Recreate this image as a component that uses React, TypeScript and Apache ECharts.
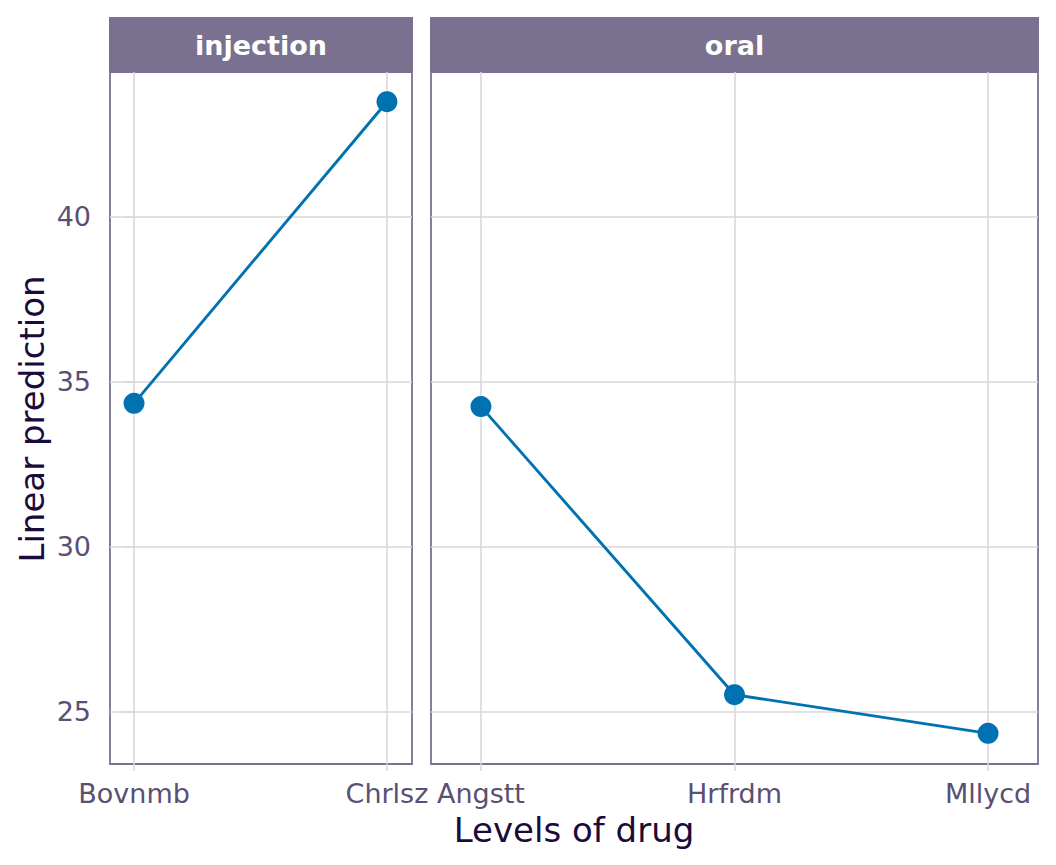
import React, { useEffect, useRef } from "react";
import * as echarts from "echarts";

const panels = ["injection", "oral"];
const injectionDrugs = ["Bovnmb", "Chrlsz"];
const injectionValues = [34.35, 43.49];
const oralDrugs = ["Angstt", "Hrfrdm", "Mllycd"];
const oralValues = [34.25, 25.52, 24.35];
const yTicks = [25, 30, 35, 40];

const FONT = "DejaVu Sans";
const BLUE = "#0072B2";
const BORDER = "#7A7190";
const GRID = "#D8D6DE";
const LABEL = "#5A5073";
const TITLE = "#1A0B3B";

export default function App() {
  const ref = useRef<HTMLDivElement>(null);
  useEffect(() => {
    if (!ref.current) return;
    const chart = echarts.init(ref.current, null, { renderer: "svg" });
    const yMin = 23.42;
    const yMax = 44.39;
    const top = 72;
    const height = 692;
    const grids = [
      { left: 110, top, width: 302, height },
      { left: 431, top, width: 607, height },
    ];
    const xRanges = [
      { min: -0.095, max: 1.099 },
      { min: -0.197, max: 2.197 },
    ];
    const catsList = [injectionDrugs, oralDrugs];
    const valsList = [injectionValues, oralValues];

    const xAxes = catsList.map((cats, i) => ({
      type: "value",
      gridIndex: i,
      min: xRanges[i].min,
      max: xRanges[i].max,
      axisLine: { show: false },
      axisTick: {
        show: true,
        length: 7,
        customValues: cats.map((_, k) => k),
        lineStyle: { color: GRID, width: 1.5 },
      },
      axisLabel: {
        customValues: cats.map((_, k) => k),
        formatter: (v: number) => cats[Math.round(v)] ?? "",
        color: LABEL,
        fontFamily: FONT,
        fontSize: 27,
        margin: 16,
      },
      splitLine: { show: true, lineStyle: { color: GRID, width: 1.5 } },
    }));

    const yAxes = [0, 1].map((i) => ({
      type: "value",
      gridIndex: i,
      min: yMin,
      max: yMax,
      axisLine: { show: false },
      axisTick: {
        show: i === 0,
        length: 9,
        customValues: yTicks,
        lineStyle: { color: GRID, width: 1.5 },
      },
      axisLabel: {
        show: i === 0,
        customValues: yTicks,
        color: LABEL,
        fontFamily: FONT,
        fontSize: 27,
        margin: 19,
      },
      splitLine: { show: true, lineStyle: { color: GRID, width: 1.5 } },
    }));

    const series = catsList.map((cats, i) => ({
      type: "line",
      xAxisIndex: i,
      yAxisIndex: i,
      data: cats.map((_, k) => [k, valsList[i][k]]),
      symbol: "circle",
      symbolSize: 21,
      itemStyle: { color: BLUE },
      lineStyle: { color: BLUE, width: 2.9 },
      z: 5,
    }));

    const graphic: any[] = [];
    grids.forEach((g, i) => {
      graphic.push({
        type: "rect",
        shape: { x: g.left - 1, y: 17, width: g.width + 2, height: 55 },
        style: { fill: BORDER },
      });
      graphic.push({
        type: "text",
        x: g.left + g.width / 2,
        y: 45,
        style: {
          text: panels[i],
          fill: "#ffffff",
          font: `bold 27px "${FONT}"`,
          align: "center",
          verticalAlign: "middle",
        },
      });
    });
    graphic.push({
      type: "text",
      x: 574,
      y: 830,
      style: {
        text: "Levels of drug",
        fill: TITLE,
        font: `34px "${FONT}"`,
        align: "center",
        verticalAlign: "middle",
      },
    });
    graphic.push({
      type: "text",
      x: 32,
      y: 419,
      rotation: Math.PI / 2,
      style: {
        text: "Linear prediction",
        fill: TITLE,
        font: `34px "${FONT}"`,
        align: "center",
        verticalAlign: "middle",
      },
    });

    chart.setOption({
      animation: false,
      backgroundColor: "#ffffff",
      grid: grids.map((g) => ({
        ...g,
        show: true,
        borderColor: BORDER,
        borderWidth: 1.8,
        backgroundColor: "transparent",
      })),
      xAxis: xAxes,
      yAxis: yAxes,
      series,
      graphic,
    } as any);
    return () => chart.dispose();
  }, []);
  return (
    <div
      ref={ref}
      style={{ position: "absolute", left: 0, top: 0, width: 1056, height: 865 }}
    />
  );
}
